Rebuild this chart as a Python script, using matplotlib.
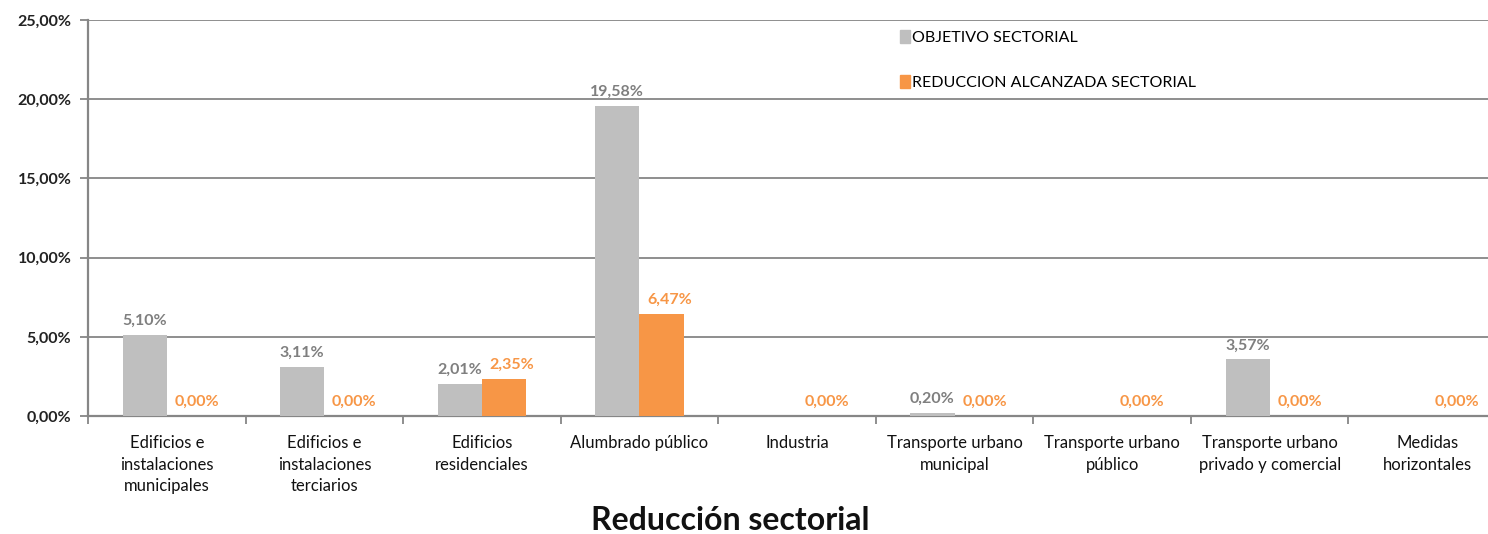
import numpy as np
import matplotlib.pyplot as plt
from matplotlib.patches import Patch

categories = [
    "Edificios e\ninstalaciones\nmunicipales",
    "Edificios e\ninstalaciones\nterciarios",
    "Edificios\nresidenciales",
    "Alumbrado público",
    "Industria",
    "Transporte urbano\nmunicipal",
    "Transporte urbano\npúblico",
    "Transporte urbano\nprivado y comercial",
    "Medidas\nhorizontales",
]
objetivo = [5.10, 3.11, 2.01, 19.58, None, 0.20, None, 3.57, None]
reduccion = [0.00, 0.00, 2.35, 6.47, 0.00, 0.00, 0.00, 0.00, 0.00]
yticks = [0, 5, 10, 15, 20, 25]

gray = "#BFBFBF"
orange = "#F79646"
axis_col = "#868686"
plt.rcParams['font.family'] = ['Lato', 'DejaVu Sans']


def pct(v):
    return f"{v:.2f}".replace(".", ",") + "%"


def main():
    fig = plt.figure(figsize=(14.88, 5.34), dpi=100)
    W, H = 1488, 534
    left, right, top, bottom = 88, 1506, 20, 416
    ax = fig.add_axes([left / W, 1 - bottom / H, (right - left) / W, (bottom - top) / H])

    n = len(categories)
    x = np.arange(n)
    w = 0.28

    for i in range(n):
        g = objetivo[i]
        if g is not None:
            ax.bar(x[i] - w / 2, g, w, color=gray, zorder=3)
            ax.text(x[i] - w / 2, g + 0.45, pct(g), ha="center", va="bottom",
                    fontsize=11.5, color="#7F7F7F", fontweight="bold")
        r = reduccion[i]
        ax.bar(x[i] + w / 2, r, w, color=orange, zorder=3)
        ax.text(x[i] + w / 2 + 0.05, r + 0.45, pct(r), ha="center", va="bottom",
                fontsize=11.5, color=orange, fontweight="bold")

    ax.set_xlim(-0.5, n - 0.5)
    ax.set_ylim(0, 25)
    ax.set_yticks(yticks)
    ax.set_yticklabels([pct(v) for v in yticks], fontsize=11.5, fontweight="bold",
                       color="#222222")
    ax.yaxis.grid(True, color=axis_col, linewidth=1.3, zorder=0)
    ax.set_axisbelow(True)

    ax.set_xticks(np.arange(n + 1) - 0.5)
    ax.set_xticklabels([])
    ax.set_xticks(x, minor=True)
    ax.set_xticklabels(categories, minor=True, fontsize=12, linespacing=1.4,
                       color="#111111")
    ax.tick_params(axis="x", which="minor", length=0, pad=14)
    ax.tick_params(axis="x", which="major", length=6, width=1.3, color=axis_col)
    ax.tick_params(axis="y", length=6, width=1.3, color=axis_col, pad=6)

    for s in ["top", "right"]:
        ax.spines[s].set_visible(False)
    for s in ["left", "bottom"]:
        ax.spines[s].set_color(axis_col)
        ax.spines[s].set_linewidth(1.6)

    handles = [Patch(color=gray, label="OBJETIVO SECTORIAL"),
               Patch(color=orange, label="REDUCCION ALCANZADA SECTORIAL")]
    fig.legend(handles=handles, loc="upper left", bbox_to_anchor=(886 / W, 1 - 16 / H),
               frameon=False, handlelength=0.6, handleheight=0.8, handletextpad=0.1,
               labelspacing=1.9, prop={"size": 11.5})

    fig.text(730 / W, 1 - 520 / H, "Reducción sectorial", ha="center", va="center",
             fontsize=23, fontweight="bold", color="#111111")

    plt.savefig("out.png", dpi=100)


if __name__ == "__main__":
    main()
